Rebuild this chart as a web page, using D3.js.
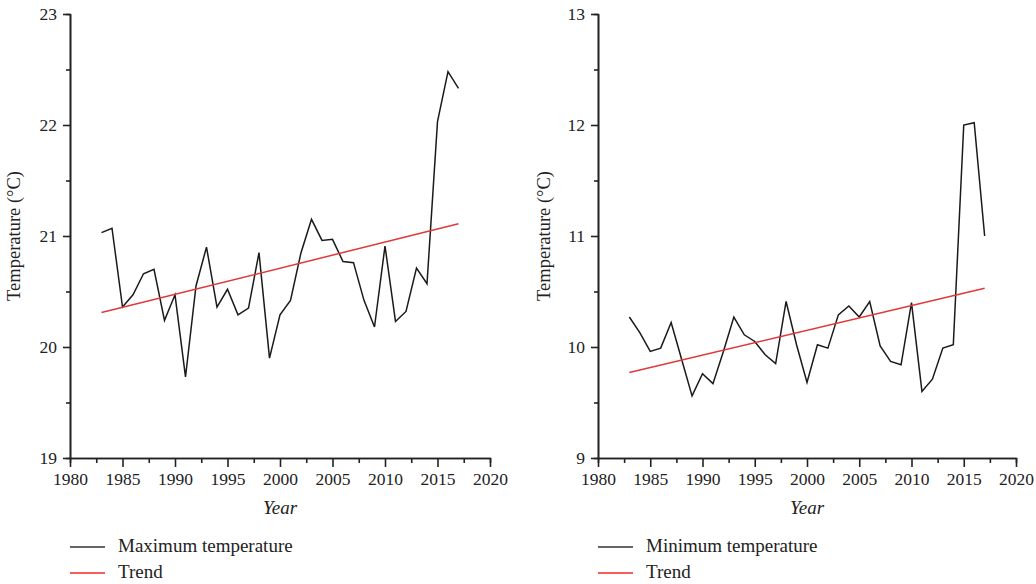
<!DOCTYPE html>
<html>
<head>
<meta charset="utf-8">
<script src="https://cdn.jsdelivr.net/npm/d3@7"></script>
<style>
  body { margin: 0; background: #fff; }
  svg { display: block; }
  text { font-family: "Liberation Serif", "DejaVu Serif", serif; fill: #222; }
</style>
</head>
<body>
<svg id="chart" width="1036" height="584"></svg>
<script>
// values, one per year 1983..2017
var years = [1983, 1984, 1985, 1986, 1987, 1988, 1989, 1990, 1991, 1992, 1993, 1994,
  1995, 1996, 1997, 1998, 1999, 2000, 2001, 2002, 2003, 2004, 2005, 2006, 2007,
  2008, 2009, 2010, 2011, 2012, 2013, 2014, 2015, 2016, 2017]

var maxTemp = [21.03, 21.07, 20.36, 20.47, 20.66, 20.70, 20.24, 20.47, 19.73, 20.55,
  20.90, 20.36, 20.52, 20.29, 20.35, 20.85, 19.90, 20.29, 20.42, 20.85, 21.15, 20.96,
  20.97, 20.77, 20.76, 20.42, 20.18, 20.91, 20.23, 20.32, 20.71, 20.57, 22.03, 22.48, 22.33]

var minTemp = [10.27, 10.13, 9.96, 9.99, 10.22, 9.89, 9.56, 9.76, 9.67, 9.96,
  10.27, 10.11, 10.05, 9.93, 9.85, 10.41, 10.02, 9.68, 10.02, 9.99, 10.29, 10.37,
  10.27, 10.41, 10.01, 9.87, 9.84, 10.40, 9.60, 9.71, 9.99, 10.02, 12.00, 12.02, 11.00]

// trend line end points
var trendYears = [1983, 2017]
var trendMax = [20.31, 21.11]
var trendMin = [9.77, 10.53]

var xTicks = [1980, 1985, 1990, 1995, 2000, 2005, 2010, 2015, 2020]
var xMinor = [1982.5, 1987.5, 1992.5, 1997.5, 2002.5, 2007.5, 2012.5, 2017.5]
var yTicksMax = [19, 20, 21, 22, 23]
var yMinorMax = [19.5, 20.5, 21.5, 22.5]
var yTicksMin = [9, 10, 11, 12, 13]
var yMinorMin = [9.5, 10.5, 11.5, 12.5]

var svg = d3.select('#chart')

var panels = [
  {left: 70, right: 490, labelX: 20, values: maxTemp, trend: trendMax,
   yDomain: [19, 23], yTicks: yTicksMax, yMinor: yMinorMax, name: 'Maximum temperature'},
  {left: 598, right: 1016, labelX: 550, values: minTemp, trend: trendMin,
   yDomain: [9, 13], yTicks: yTicksMin, yMinor: yMinorMin, name: 'Minimum temperature'}
]

var plotTop = 14, plotBottom = 458

panels.forEach(function(p){
  var x = d3.scaleLinear().domain([1980, 2020]).range([p.left, p.right])
  var y = d3.scaleLinear().domain(p.yDomain).range([plotBottom, plotTop])
  var g = svg.append('g')

  // minor ticks first, then the labelled axis on top
  g.append('g').attr('transform', 'translate(0,' + plotBottom + ')')
    .call(d3.axisBottom(x).tickValues(xMinor).tickSize(5).tickFormat(''))
  g.append('g').attr('transform', 'translate(' + p.left + ',0)')
    .call(d3.axisLeft(y).tickValues(p.yMinor).tickSize(4).tickFormat(''))

  g.append('g').attr('transform', 'translate(0,' + plotBottom + ')')
    .call(d3.axisBottom(x).tickValues(xTicks).tickSize(9).tickPadding(6).tickSizeOuter(0).tickFormat(d3.format('d')))
  g.append('g').attr('transform', 'translate(' + p.left + ',0)')
    .call(d3.axisLeft(y).tickValues(p.yTicks).tickSize(7).tickPadding(6).tickSizeOuter(0).tickFormat(d3.format('d')))

  g.selectAll('.domain, .tick line').attr('stroke', '#222').attr('stroke-width', 1.6)
  g.selectAll('.tick text').attr('font-size', 17.5).attr('fill', '#222')
    .style('font-family', '"Liberation Serif", serif')

  g.append('text')
    .attr('x', (p.left + p.right) / 2).attr('y', 514)
    .attr('text-anchor', 'middle').attr('font-size', 19).attr('font-style', 'italic')
    .text('Year')

  g.append('text')
    .attr('transform', 'translate(' + p.labelX + ',' + (plotTop + plotBottom) / 2 + ') rotate(-90)')
    .attr('text-anchor', 'middle').attr('font-size', 18.5)
    .text('Temperature (°C)')

  var line = d3.line().x(function(d){ return x(d[0]) }).y(function(d){ return y(d[1]) })

  g.append('path')
    .datum(years.map(function(yr, i){ return [yr, p.values[i]] }))
    .attr('d', line).attr('fill', 'none')
    .attr('stroke', '#1a1a1a').attr('stroke-width', 1.5)

  g.append('path')
    .datum(trendYears.map(function(yr, i){ return [yr, p.trend[i]] }))
    .attr('d', line).attr('fill', 'none')
    .attr('stroke', '#e0383a').attr('stroke-width', 1.5)

  // legend
  var legend = [{label: p.name, color: '#333'}, {label: 'Trend', color: '#f0282a'}]
  legend.forEach(function(l, i){
    var ly = 547 + i * 26
    g.append('line').attr('x1', p.left).attr('x2', p.left + 35)
      .attr('y1', ly).attr('y2', ly).attr('stroke', l.color).attr('stroke-width', 1.3)
    g.append('text').attr('x', p.left + 48).attr('y', ly + 5)
      .attr('font-size', 19).text(l.label)
  })
})
</script>
</body>
</html>
